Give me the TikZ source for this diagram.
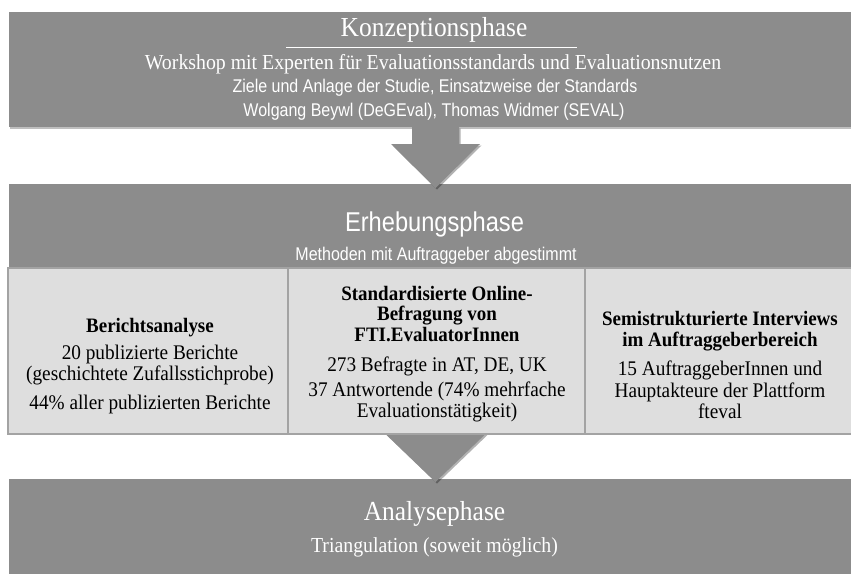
\documentclass[tikz,border=0pt]{standalone}
\usepackage{fontspec}
\setmainfont{Liberation Serif}[FakeStretch=0.926]
\setsansfont{Liberation Sans}[FakeStretch=0.87]
\usetikzlibrary{shadows}
\definecolor{phase}{RGB}{140,140,140}
\definecolor{cell}{RGB}{222,222,222}
\definecolor{cellline}{RGB}{163,163,163}
\begin{document}
\begin{tikzpicture}[x=1pt,y=-1pt,
  phasebox/.style={fill=phase,draw=none,inner sep=0pt,anchor=north west,
    drop shadow={shadow xshift=1pt,shadow yshift=-1.5pt,opacity=.25,fill=black}},
  cellbox/.style={fill=cell,draw=cellline,line width=1.5pt,inner sep=0pt,anchor=north west,
    minimum height=166pt},
  blockarrow/.style={fill=phase,draw=none,
    drop shadow={shadow xshift=1.5pt,shadow yshift=-1.5pt,opacity=.3,fill=black}},
  headserif/.style={text=white,inner sep=0pt,font=\fontsize{27.5}{32}\selectfont},
  headsans/.style={text=white,inner sep=0pt,font=\sffamily\fontsize{27.2}{32}\selectfont},
  subserif/.style={text=white,inner sep=0pt,font=\fontsize{21.4}{25}\selectfont},
  subsans/.style={text=white,inner sep=0pt,font=\sffamily\fontsize{18.4}{21}\selectfont},
  celltitle/.style={text=black,inner sep=0pt,align=center,font=\bfseries\fontsize{20.5}{20.5}\selectfont},
  celltext/.style={text=black,inner sep=0pt,align=center,font=\fontsize{20.8}{21.5}\selectfont}]
\useasboundingbox (0,0) rectangle (851,573);

% phase boxes
\node[phasebox,minimum width=842pt,minimum height=115pt] (konz) at (9,12) {};
\node[phasebox,minimum width=842pt,minimum height=83pt] (erheb) at (9,184) {};
\node[phasebox,minimum width=842pt,minimum height=100pt] (analyse) at (9,479) {};

% arrow 1
\coordinate (a1l) at (412,127);
\coordinate (a1r) at (459,127);
\coordinate (a1tip) at (435.5,188);
\fill[blockarrow] (a1l) -- (a1r) -- (459,144) -- (480,144) -- (a1tip) -- (391,144) -- (412,144) -- cycle;

% arrow 2
\coordinate (a2l) at (384.5,433);
\coordinate (a2r) at (486.5,433);
\coordinate (a2tip) at (435.5,482);
\fill[blockarrow] (a2l) -- (a2r) -- (a2tip) -- cycle;

% cells
\node[cellbox,minimum width=280pt] (c1) at (7,267) {};
\node[cellbox,minimum width=297pt] (c2) at (287,267) {};
\node[cellbox,minimum width=267pt] (c3) at (584,267) {};

% top texts
\node[headserif] (t1) at (434,30) {Konzeptionsphase};
\coordinate (ul1) at (286,47);
\coordinate (ul2) at (577,47);
\draw[white,line width=0.8pt] (ul1) -- (ul2);
\node[subserif] (t2) at (433,64) {Workshop mit Experten für Evaluationsstandards und Evaluationsnutzen};
\node[subsans] (t3) at (435,88) {Ziele und Anlage der Studie, Einsatzweise der Standards};
\node[subsans] (t4) at (434,112) {Wolgang Beywl (DeGEval), Thomas Widmer (SEVAL)};

% middle texts
\node[headsans] (m1) at (434.5,224) {Erhebungsphase};
\node[subsans] (m2) at (436,256) {Methoden mit Auftraggeber abgestimmt};

% cell 1
\node[celltitle] (c1a) at (150,328) {Berichtsanalyse};
\node[celltext] (c1b) at (150,365) {20 publizierte Berichte\\(geschichtete Zufallsstichprobe)};
\node[celltext] (c1c) at (150,404) {44\% aller publizierten Berichte};

% cell 2
\node[celltitle] (c2a) at (437,314) {Standardisierte Online-\\Befragung von\\FTI.EvaluatorInnen};
\node[celltext] (c2b) at (437,366) {273 Befragte in AT, DE, UK};
\node[celltext] (c2c) at (437,402) {37 Antwortende (74\% mehrfache\\Evaluationstätigkeit)};

% cell 3
\node[celltitle] (c3a) at (720,331) {Semistrukturierte Interviews\\im Auftraggeberbereich};
\node[celltext] (c3b) at (720,390) {15 AuftraggeberInnen und\\Hauptakteure der Plattform\\fteval};

% bottom texts
\node[headserif] (b1) at (434.5,514) {Analysephase};
\node[subserif] (b2) at (434.5,547) {Triangulation (soweit möglich)};
\end{tikzpicture}
\end{document}
